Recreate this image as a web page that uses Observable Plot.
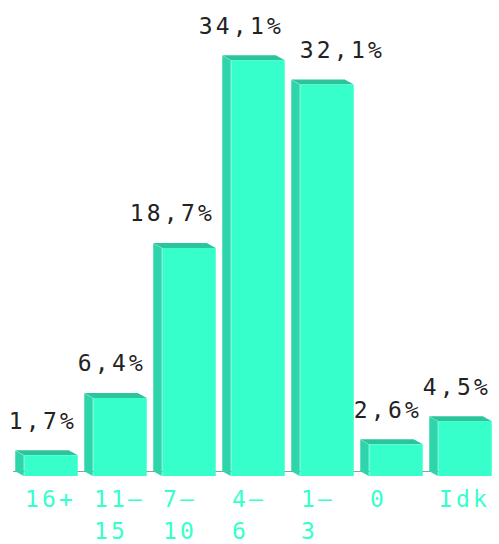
<!DOCTYPE html>
<html><head><meta charset="utf-8">
<script src="https://cdn.jsdelivr.net/npm/d3@7"></script>
<script src="https://cdn.jsdelivr.net/npm/@observablehq/plot@0.6"></script>
<style>
body{margin:0;background:#fff}
#chart svg text{letter-spacing:3.2px}
</style>
</head><body><div id="chart"></div>
<script>
const categories = ["16+", "11–15", "7–10", "4–6", "1–3", "0", "Idk"];
const tickLabels = ["16+", "11–\n15", "7–\n10", "4–\n6", "1–\n3", "0", "Idk"];
const values = [1.7, 6.4, 18.7, 34.1, 32.1, 2.6, 4.5];
const valueLabels = ["1,7%", "6,4%", "18,7%", "34,1%", "32,1%", "2,6%", "4,5%"];

const data = categories.map((c, i) => ({cat: c, tick: tickLabels[i], value: values[i], label: valueLabels[i]}));

const FRONT = "#36ffcc", SIDE = "#2ed5aa", TOP = "#2bc49b";

const svg = Plot.plot({
  width: 499, height: 544,
  marginLeft: 9.75, marginRight: 2.75, marginTop: 37, marginBottom: 68,
  x: {type: "band", domain: categories, padding: 0, axis: null},
  y: {domain: [0, 36], axis: null},
  style: {fontFamily: "'DejaVu Sans Mono', monospace", background: "#fff"},
  marks: [
    Plot.ruleY([0], {dy: -5, stroke: "#9a9a9a", strokeWidth: 1, insetLeft: 3.25, insetRight: 13}),
    Plot.barY(data, {x: "cat", y: "value", fill: SIDE, insetLeft: 3.25, insetRight: 57.25}),
    Plot.barY(data, {x: "cat", y1: "value", y2: "value", fill: TOP, insetLeft: 12.25, insetRight: 3.25, insetTop: -5}),
    Plot.barY(data, {x: "cat", y: "value", fill: FRONT, insetLeft: 12.25, insetRight: 3.25}),
    Plot.text(data, {x: "cat", y: "value", text: "label", textAnchor: "end", dx: 30, dy: -34.4, fontSize: 23, fill: "#222"}),
    Plot.text(data, {x: "cat", text: "tick", frameAnchor: "bottom", lineAnchor: "top", textAnchor: "start", dx: -22, dy: 8.2, fontSize: 23, lineHeight: 1.375, fill: FRONT})
  ]
});

document.getElementById("chart").appendChild(svg);

// 3D faces: skew the side and top faces into parallelograms
const bars = svg.querySelectorAll('g[aria-label="bar"]');
const angY = Math.atan(5 / 9) * 180 / Math.PI;
const angX = Math.atan(9 / 5) * 180 / Math.PI;
bars[0].querySelectorAll("rect").forEach(r => {
  const px = +r.getAttribute("x") + +r.getAttribute("width");
  r.setAttribute("transform", `translate(${px},0) skewY(${angY}) translate(${-px},0)`);
});
bars[1].querySelectorAll("rect").forEach(r => {
  const py = +r.getAttribute("y") + +r.getAttribute("height");
  r.setAttribute("transform", `translate(0,${py}) skewX(${angX}) translate(0,${-py})`);
});

// value labels: nudge a label sideways when it collides with a taller neighbouring bar
const sr = svg.getBoundingClientRect();
const fronts = Array.from(bars[2].querySelectorAll("rect")).map(r => {
  const b = r.getBoundingClientRect();
  return {left: b.left - sr.left - 9, right: b.right - sr.left, top: b.top - sr.top - 5};
});
const texts = svg.querySelectorAll('g[aria-label="text"]')[0].querySelectorAll("text");
texts.forEach((t, i) => {
  const b = t.getBoundingClientRect();
  const x0 = b.left - sr.left, x1 = b.right - sr.left, y1 = b.bottom - sr.top;
  let shift = 0;
  const L = fronts[i - 1], R = fronts[i + 1];
  if (L && y1 > L.top && L.right - x0 > 3) shift = L.right + 15 - x0;
  else if (R && y1 > R.top && x1 - R.left > 3) shift = R.left - 15 - x1;
  if (shift) t.setAttribute("transform", `translate(${shift},0) ` + (t.getAttribute("transform") || ""));
});
</script>
</body></html>
